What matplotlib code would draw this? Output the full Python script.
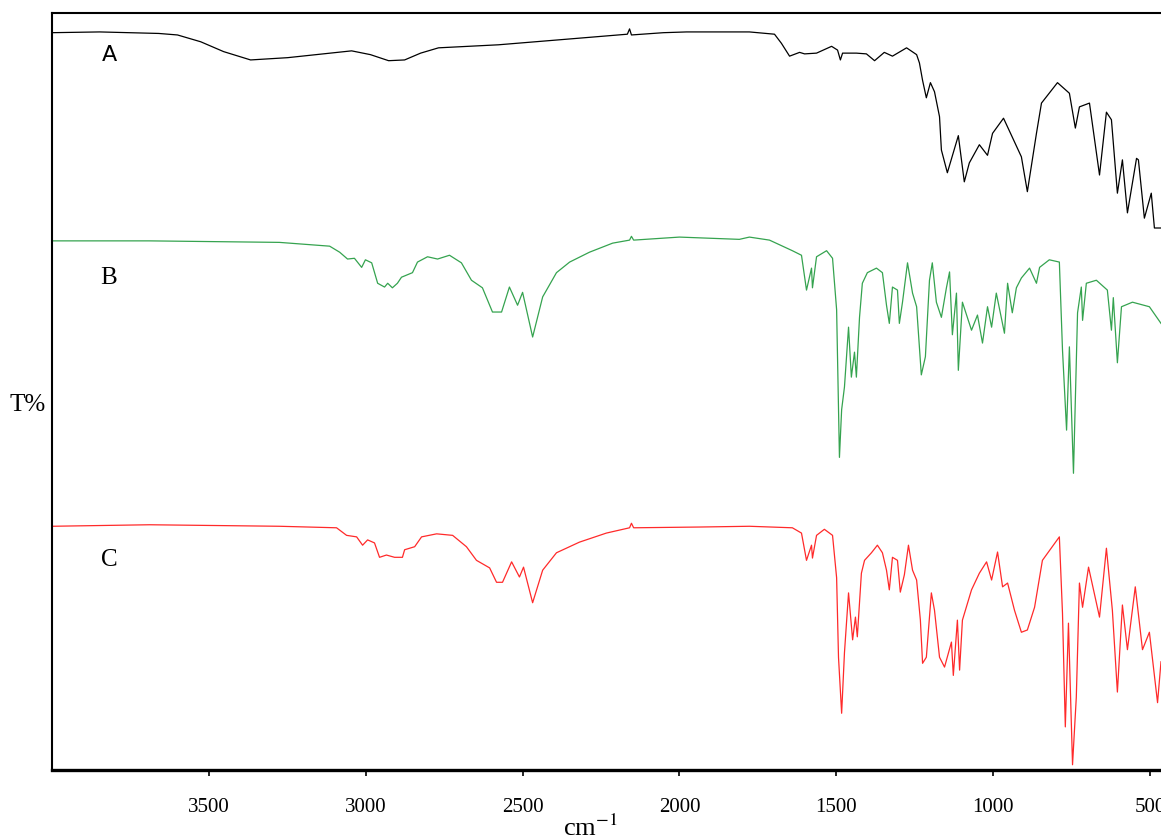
import numpy as np
import matplotlib.pyplot as plt

plt.rcParams['font.family'] = ['Liberation Serif', 'DejaVu Serif']
plt.rcParams['mathtext.fontset'] = 'stix'

# spectrum A (black)
wn_a = [4000, 3848, 3660, 3600, 3526, 3453, 3367, 3249, 3045, 2985, 2927, 2876, 2825,
        2768, 2577, 2430, 2283, 2166, 2159, 2153, 2051, 1977, 1777, 1697, 1675, 1649,
        1617, 1601, 1563, 1515, 1496, 1487, 1480, 1436, 1404, 1378, 1347, 1321, 1276,
        1244, 1235, 1225, 1213, 1200, 1187, 1171, 1165, 1146, 1111, 1092, 1076, 1044,
        1018, 1012, 1002, 967, 939, 910, 891, 862, 846, 795, 757, 738, 725, 693, 661,
        639, 623, 604, 588, 572, 543, 537, 518, 496, 486, 465]
t_a = [97.4, 97.5, 97.3, 97.1, 96.2, 94.9, 93.8, 94.1, 95.0, 94.5, 93.7, 93.8, 94.7,
       95.4, 95.8, 96.3, 96.8, 97.2, 97.9, 97.1, 97.4, 97.5, 97.5, 97.2, 96.0, 94.3,
       94.8, 94.6, 94.7, 95.6, 95.1, 93.8, 94.7, 94.7, 94.6, 93.7, 94.8, 94.3, 95.4,
       94.5, 93.4, 91.1, 88.8, 90.8, 89.6, 86.3, 81.9, 78.9, 83.8, 77.7, 80.2, 82.6,
       81.2, 82.3, 84.1, 86.1, 83.6, 81.0, 76.4, 84.1, 88.1, 90.8, 89.4, 84.8, 87.6,
       88.1, 78.6, 86.9, 85.9, 76.2, 80.6, 73.6, 80.8, 80.6, 72.9, 76.2, 71.6, 71.6]

# spectrum B (green)
wn_b = [4000, 3689, 3275, 3115, 3083, 3058, 3036, 3013, 3001, 2981, 2962, 2940, 2930,
        2915, 2899, 2886, 2851, 2835, 2803, 2771, 2733, 2695, 2663, 2628, 2596, 2567,
        2542, 2516, 2500, 2468, 2436, 2392, 2350, 2287, 2213, 2159, 2153, 2146, 2000,
        1809, 1777, 1713, 1640, 1611, 1595, 1579, 1576, 1563, 1531, 1512, 1499, 1490,
        1483, 1474, 1461, 1452, 1442, 1436, 1426, 1417, 1401, 1372, 1353, 1340, 1331,
        1321, 1305, 1299, 1289, 1273, 1257, 1244, 1229, 1216, 1203, 1194, 1181, 1165,
        1149, 1139, 1130, 1117, 1111, 1098, 1069, 1050, 1034, 1018, 1005, 990, 964,
        954, 939, 926, 910, 884, 862, 852, 821, 789, 779, 766, 757, 744, 731, 719, 715,
        703, 671, 636, 623, 617, 604, 591, 556, 502, 465]
t_b = [69.9, 69.9, 69.7, 69.2, 68.4, 67.5, 67.6, 66.4, 67.4, 67.0, 64.3, 63.8, 64.3,
       63.7, 64.3, 65.1, 65.7, 67.1, 67.8, 67.5, 68.0, 67.0, 64.7, 63.7, 60.5, 60.5,
       63.8, 61.4, 63.1, 57.2, 62.5, 65.7, 67.1, 68.4, 69.6, 70.0, 70.5, 70.0, 70.4,
       70.1, 70.4, 70.0, 68.6, 68.0, 63.4, 66.3, 63.7, 67.8, 68.6, 67.6, 60.8, 41.3,
       47.6, 50.6, 58.5, 51.9, 55.2, 51.9, 59.8, 64.3, 65.7, 66.3, 65.7, 61.4, 59.0,
       63.8, 63.4, 59.0, 61.8, 67.0, 63.0, 61.2, 52.2, 54.6, 64.7, 67.0, 61.8, 59.8,
       63.7, 65.8, 57.5, 63.0, 52.8, 61.8, 58.1, 60.1, 56.4, 61.2, 58.5, 63.0, 57.7,
       64.3, 60.4, 63.7, 65.0, 66.3, 64.3, 66.4, 67.4, 67.1, 55.5, 44.9, 55.9, 39.2,
       60.4, 63.8, 59.4, 64.3, 64.7, 63.4, 58.1, 62.4, 53.8, 61.2, 61.8, 61.2, 59.0]

# spectrum C (red)
wn_c = [4000, 3689, 3275, 3093, 3061, 3029, 3010, 2994, 2972, 2956, 2934, 2908, 2883,
        2876, 2844, 2822, 2774, 2723, 2679, 2647, 2605, 2583, 2564, 2535, 2510, 2497,
        2468, 2436, 2392, 2319, 2233, 2159, 2153, 2146, 1936, 1777, 1640, 1611, 1595,
        1579, 1576, 1563, 1538, 1512, 1499, 1493, 1483, 1474, 1461, 1448, 1439, 1433,
        1420, 1410, 1388, 1369, 1353, 1340, 1331, 1321, 1305, 1296, 1283, 1270, 1257,
        1244, 1232, 1225, 1213, 1197, 1187, 1171, 1155, 1133, 1127, 1114, 1107, 1098,
        1069, 1044, 1021, 1005, 986, 970, 954, 932, 910, 891, 868, 843, 789, 779, 770,
        760, 747, 735, 725, 715, 696, 661, 639, 620, 604, 588, 572, 547, 524, 502, 476,
        465]
t_c = [32.2, 32.4, 32.2, 32.0, 31.0, 30.8, 29.7, 30.4, 30.0, 28.1, 28.4, 28.1, 28.1,
       29.1, 29.5, 30.8, 31.2, 31.0, 29.5, 27.7, 26.7, 24.8, 24.8, 27.5, 25.5, 26.8,
       22.1, 26.4, 28.7, 30.1, 31.3, 32.0, 32.6, 32.0, 32.1, 32.2, 32.0, 31.3, 27.7,
       29.7, 28.0, 31.0, 31.8, 31.0, 25.4, 14.9, 7.5, 15.5, 23.4, 17.2, 20.2, 17.6,
       26.0, 27.7, 28.7, 29.7, 28.7, 26.4, 23.8, 28.1, 27.7, 23.5, 25.8, 29.7, 26.4,
       25.1, 19.8, 14.1, 14.9, 23.4, 21.1, 14.9, 13.6, 16.9, 12.5, 19.8, 13.2, 19.8,
       23.8, 26.0, 27.5, 25.1, 28.8, 24.2, 24.7, 21.1, 18.2, 18.5, 21.5, 27.7, 30.8,
       20.7, 5.7, 19.4, 0.7, 9.6, 24.7, 21.5, 26.8, 20.2, 29.3, 21.1, 10.3, 21.8,
       15.9, 24.2, 15.9, 18.2, 8.9, 14.3]

ticks = [3500, 3000, 2500, 2000, 1500, 1000, 500]

fig = plt.figure(figsize=(11.61, 8.39), dpi=100)
ax = fig.add_axes([0.0448, 0.0822, 0.9552, 0.9023])

ax.plot(wn_a, t_a, color='black', lw=0.9)
ax.plot(wn_b, t_b, color='#35a34f', lw=0.9)
ax.plot(wn_c, t_c, color='#ff2a2a', lw=0.9)

ax.set_xlim(4000, 465)
ax.set_ylim(0, 100)
ax.set_xticks(ticks)
ax.set_xticklabels([str(t) for t in ticks], fontsize=15)
ax.tick_params(axis='x', direction='out', length=4, width=1.2, pad=16)
ax.set_yticks([])

ax.spines['right'].set_visible(False)
ax.spines['bottom'].set_linewidth(2.4)
ax.spines['left'].set_linewidth(1.5)
ax.spines['top'].set_linewidth(1.5)

ax.text(3816, 94.5, 'A', family=['DejaVu Sans'], fontsize=16, ha='center', va='center')
ax.text(3819, 65.0, 'B', fontsize=18, ha='center', va='center')
ax.text(3816, 27.7, 'C', fontsize=18, ha='center', va='center')

fig.text(46 / 1161, 1 - 405 / 839, 'T%', fontsize=18, ha='right', va='center')
fig.text(590 / 1161, 1 - 828 / 839, 'cm$^{-1}$', fontsize=19, ha='center', va='center')

fig.savefig('out.png', dpi=100)
